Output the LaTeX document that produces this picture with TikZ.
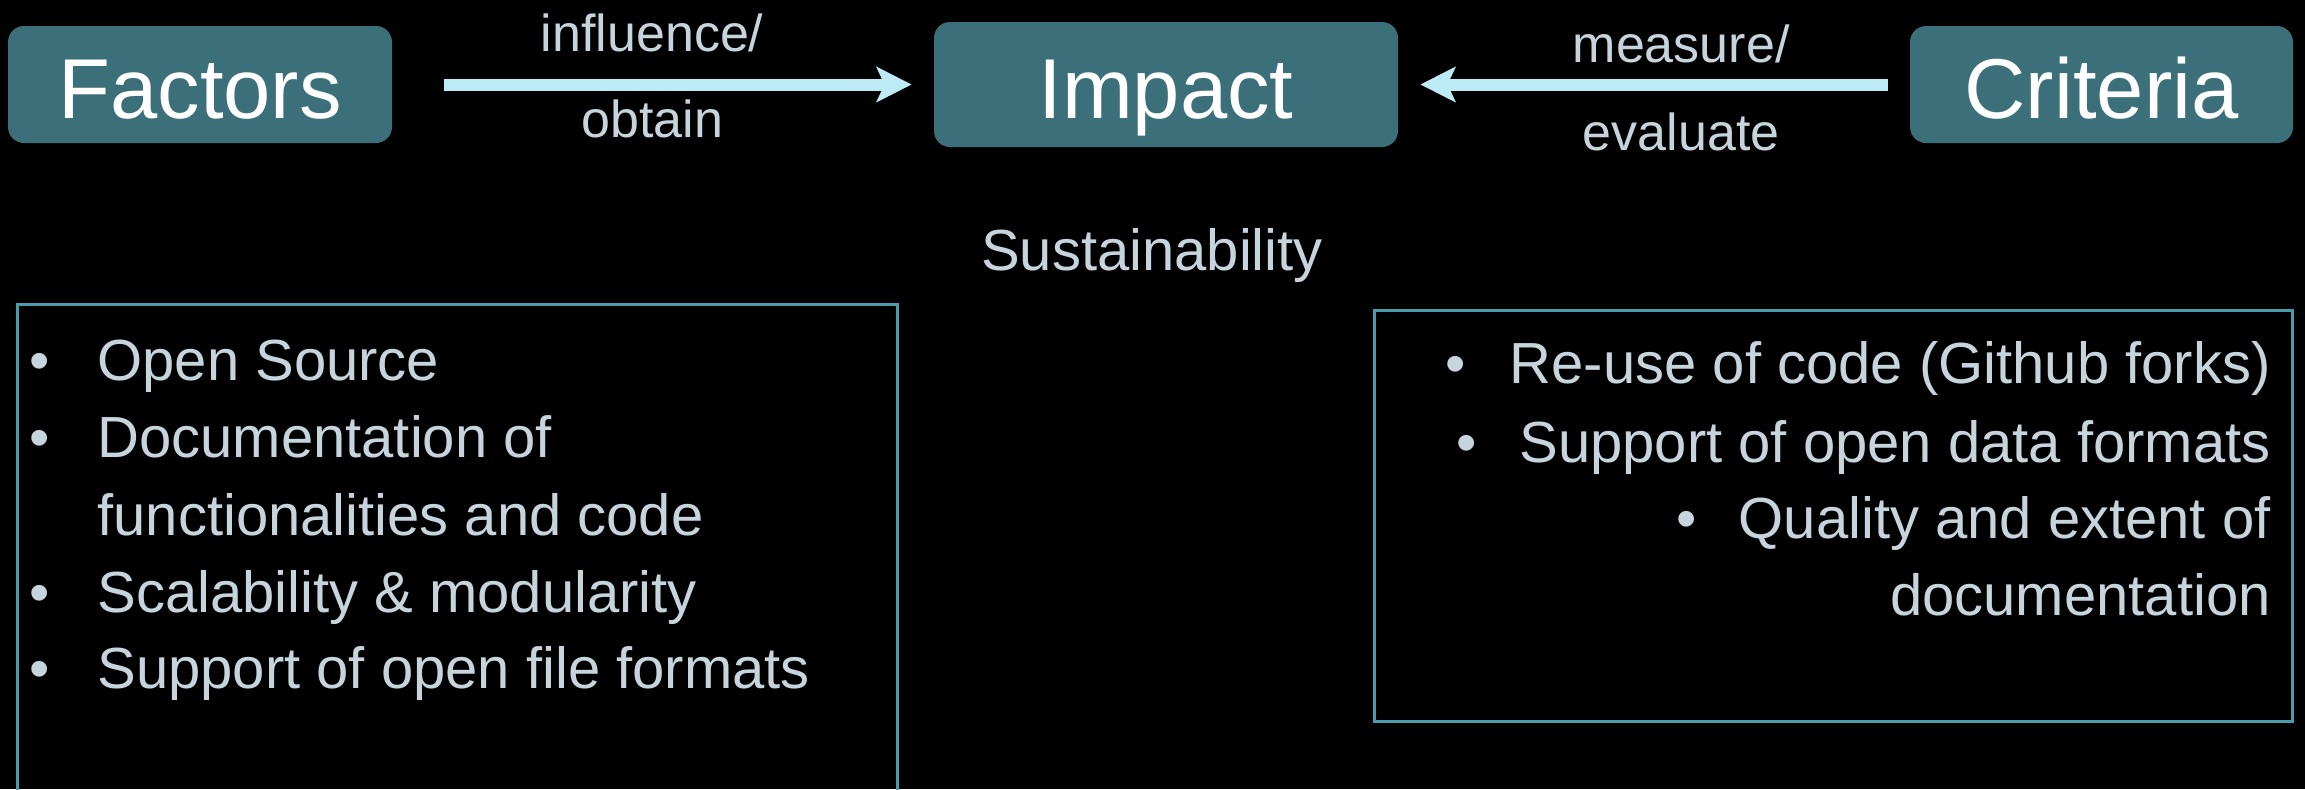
\documentclass[tikz,border=0pt]{standalone}
\usepackage{fontspec}
\setmainfont{Liberation Sans}
\usetikzlibrary{arrows.meta}
\definecolor{boxteal}{HTML}{3B707B}
\definecolor{frameteal}{HTML}{4A9BAB}
\definecolor{listgray}{HTML}{C6D5DC}
\definecolor{flowcyan}{HTML}{BDEBF5}
\tikzstyle{head}=[rectangle,rounded corners=8pt,fill=boxteal,text=white,
  font=\fontsize{42.5}{50}\selectfont,text height=34pt,text depth=0pt,inner sep=0pt]
\tikzstyle{flow}=[line width=6pt,draw=flowcyan,
  -{Stealth[length=17.5pt,width=17.5pt,inset=4pt]}]
\tikzstyle{verb}=[text=listgray,font=\fontsize{26}{31}\selectfont,anchor=base,inner sep=0pt]
\tikzstyle{item}=[text=listgray,font=\fontsize{29}{35}\selectfont,inner sep=0pt]
\tikzstyle{frame}=[draw=frameteal,line width=1.5pt]

\begin{document}
\begin{tikzpicture}[x=0.5pt,y=-0.5pt]
  % Background.
  \fill[black] (0,0) rectangle (2305,789);
  \clip (0,0) rectangle (2305,789);

  % Top row.
  \node[head,minimum width=192pt,minimum height=58.5pt] (factors) at (200,84.5) {Factors};
  \node[head,minimum width=232pt,minimum height=62.5pt] (impact) at (1166,84.5) {Impact};
  \node[head,minimum width=191.5pt,minimum height=58.5pt] (criteria) at (2101.5,84.5) {Criteria};

  % Arrows and their labels.
  \draw[flow,shorten <=26pt,shorten >=11pt] (factors) -- (impact)
    node[verb,pos=.48,yshift=16.5pt] (influence) {influence/}
    node[verb,pos=.48,yshift=-26.5pt] (obtain) {obtain};
  \draw[flow,shorten <=11pt,shorten >=11pt] (criteria) -- (impact)
    node[verb,pos=.447,yshift=11pt] (measure) {measure/}
    node[verb,pos=.447,yshift=-33pt] (evaluate) {evaluate};

  % Middle label.
  \node[item,anchor=base] (sust) at (1152,270) {Sustainability};

  % Factor list.
  \draw[frame] (17,800) -- (17,304) -- (897,304) -- (897,800);
  \node[item,anchor=base west] (f1) at (97,380) {Open Source};
  \node[item,anchor=base west] (f2) at (97,457) {Documentation of};
  \node[item,anchor=base west] (f3) at (97,535) {functionalities and code};
  \node[item,anchor=base west] (f4) at (97,612) {Scalability \& modularity};
  \node[item,anchor=base west] (f5) at (97,688) {Support of open file formats};
  \node[item,anchor=base] (b1) at ([xshift=-28.5pt]f1.base west) {•};
  \node[item,anchor=base] (b2) at ([xshift=-28.5pt]f2.base west) {•};
  \node[item,anchor=base] (b4) at ([xshift=-28.5pt]f4.base west) {•};
  \node[item,anchor=base] (b5) at ([xshift=-28.5pt]f5.base west) {•};

  % Criteria list.
  \draw[frame] (1374,310) rectangle (2292,721);
  \node[item,anchor=base east] (c1) at (2271,383) {Re-use of code (Github forks)};
  \node[item,anchor=base east] (c2) at (2271,462) {Support of open data formats};
  \node[item,anchor=base east] (c3) at (2271,538) {Quality and extent of};
  \node[item,anchor=base east] (c4) at (2271,615) {documentation};
  \node[item,anchor=base] (d1) at ([xshift=-27pt]c1.base west) {•};
  \node[item,anchor=base] (d2) at ([xshift=-26pt]c2.base west) {•};
  \node[item,anchor=base] (d3) at ([xshift=-26pt]c3.base west) {•};
\end{tikzpicture}
\end{document}
